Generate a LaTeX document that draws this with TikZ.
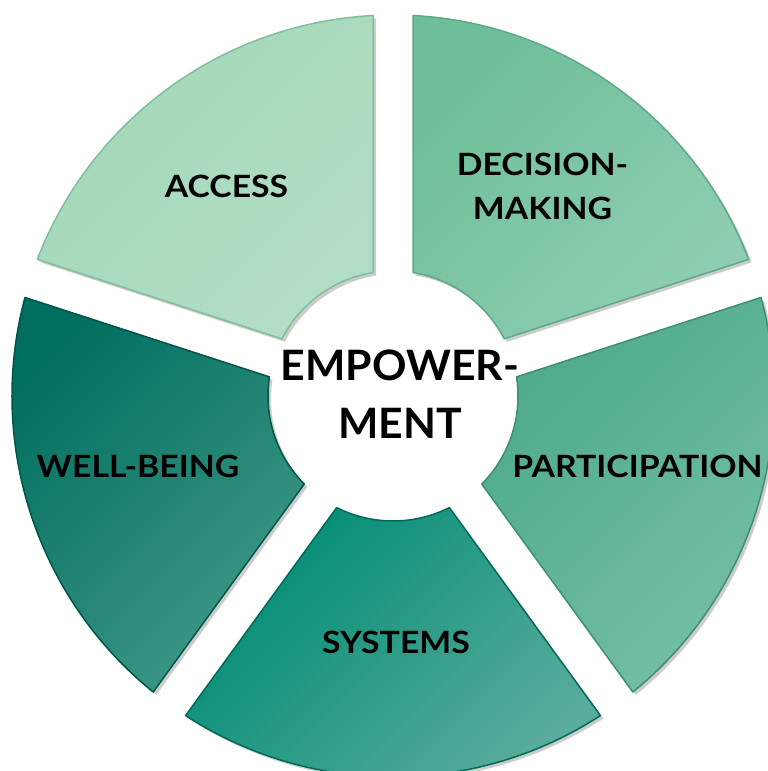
\documentclass[tikz,border=0pt]{standalone}
\usepackage{fontspec}
\setmainfont{Lato}[FakeStretch=1.02]
\newfontfamily\labfont{Lato}[FakeStretch=1.1]
\usetikzlibrary{shadows}
\definecolor{acA}{HTML}{A3D7B8}\definecolor{acB}{HTML}{B2DEC6}\definecolor{acL}{HTML}{7FBF9B}
\definecolor{dmA}{HTML}{6EBE99}\definecolor{dmB}{HTML}{8FCEB2}\definecolor{dmL}{HTML}{5FA886}
\definecolor{paA}{HTML}{4DAA8A}\definecolor{paB}{HTML}{76BFA6}\definecolor{paL}{HTML}{3D8E72}
\definecolor{syA}{HTML}{008C74}\definecolor{syB}{HTML}{5AAC9C}\definecolor{syL}{HTML}{006A58}
\definecolor{wbA}{HTML}{006E5E}\definecolor{wbB}{HTML}{3F9887}\definecolor{wbL}{HTML}{005548}
\newcommand\mysegpath[2]{(#1+3.01:381) arc[start angle=#1+3.01, end angle=#2-3.01, radius=381] -- (#2-9.21:125) arc[start angle=#2-9.21, end angle=#1+9.21, radius=125] -- cycle}
\begin{document}
\begin{tikzpicture}[x=1pt,y=1pt,
  seg/.style={line width=1.5pt, line join=round,
    drop shadow={shadow xshift=3pt, shadow yshift=-3pt, opacity=0.2, fill=black}},
  lab/.style={font=\labfont\fontsize{30.7}{44}\selectfont\bfseries, text=black, inner sep=0pt, align=center},
  biglab/.style={font=\fontsize{41.9}{58}\selectfont\bfseries, text=black, inner sep=0pt, align=center}]
\useasboundingbox (0,0) rectangle (768,771);
\begin{scope}[shift={(393,375)}]
\path[seg, draw=acL, top color=acA, bottom color=acB, shading angle=45] \mysegpath{90}{162};
\path[seg, draw=wbL, top color=wbA, bottom color=wbB, shading angle=45] \mysegpath{162}{234};
\path[seg, draw=syL, top color=syA, bottom color=syB, shading angle=45] \mysegpath{234}{306};
\path[seg, draw=paL, top color=paA, bottom color=paB, shading angle=45] \mysegpath{306}{378};
\path[seg, draw=dmL, top color=dmA, bottom color=dmB, shading angle=45] \mysegpath{18}{90};
\end{scope}
\node[lab] (access) at (226.5,585) {ACCESS};
\node[lab] (decision) at (542.5,585) {DECISION-\\MAKING};
\node[biglab] (empower) at (400,377) {EMPOWER-\\MENT};
\node[lab] (particip) at (637.5,305) {PARTICIPATION};
\node[lab] (wellbeing) at (138,305) {WELL-BEING};
\node[lab] (systems) at (396,129) {SYSTEMS};
\end{tikzpicture}
\end{document}
